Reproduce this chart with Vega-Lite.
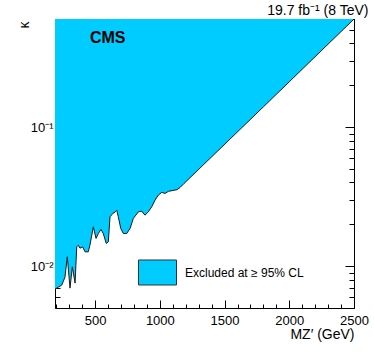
{
  "$schema": "https://vega.github.io/schema/vega-lite/v6.json",
  "width": 299,
  "height": 289,
  "autosize": {"type": "none"},
  "padding": {"left": 55, "top": 19, "right": 20, "bottom": 55},
  "background": "white",
  "title": {"text": "19.7 fb⁻¹ (8 TeV)", "anchor": "end", "fontSize": 14, "fontWeight": "normal", "font": "Liberation Sans", "color": "#000", "offset": -5},
  "data": {"values": [
    {"M": 190, "kappa": 0.00683},
    {"M": 215, "kappa": 0.00706},
    {"M": 242, "kappa": 0.00730},
    {"M": 267, "kappa": 0.00833},
    {"M": 285, "kappa": 0.01167},
    {"M": 306, "kappa": 0.00695},
    {"M": 324, "kappa": 0.00989},
    {"M": 345, "kappa": 0.00755},
    {"M": 358, "kappa": 0.01377},
    {"M": 370, "kappa": 0.01416},
    {"M": 383, "kappa": 0.01348},
    {"M": 404, "kappa": 0.01377},
    {"M": 422, "kappa": 0.01268},
    {"M": 447, "kappa": 0.01268},
    {"M": 460, "kappa": 0.01416},
    {"M": 486, "kappa": 0.01918},
    {"M": 507, "kappa": 0.01583},
    {"M": 525, "kappa": 0.01718},
    {"M": 545, "kappa": 0.01837},
    {"M": 563, "kappa": 0.01718},
    {"M": 586, "kappa": 0.01457},
    {"M": 602, "kappa": 0.01496},
    {"M": 615, "kappa": 0.02264},
    {"M": 636, "kappa": 0.02394},
    {"M": 654, "kappa": 0.02445},
    {"M": 667, "kappa": 0.02530},
    {"M": 679, "kappa": 0.02264},
    {"M": 698, "kappa": 0.01867},
    {"M": 718, "kappa": 0.01718},
    {"M": 744, "kappa": 0.01718},
    {"M": 770, "kappa": 0.01867},
    {"M": 795, "kappa": 0.02203},
    {"M": 834, "kappa": 0.02460},
    {"M": 860, "kappa": 0.02488},
    {"M": 885, "kappa": 0.02328},
    {"M": 911, "kappa": 0.02460},
    {"M": 937, "kappa": 0.02672},
    {"M": 963, "kappa": 0.02985},
    {"M": 988, "kappa": 0.03243},
    {"M": 1015, "kappa": 0.03396},
    {"M": 1040, "kappa": 0.03334},
    {"M": 1066, "kappa": 0.03452},
    {"M": 1094, "kappa": 0.03493},
    {"M": 1133, "kappa": 0.03551},
    {"M": 1156, "kappa": 0.03683},
    {"M": 1187, "kappa": 0.03936},
    {"M": 1800, "kappa": 0.140},
    {"M": 2500, "kappa": 0.600}
  ]},
  "layer": [
    {
      "mark": {"type": "area", "clip": true, "opacity": 1, "interpolate": "linear"},
      "encoding": {
        "x": {"field": "M", "type": "quantitative", "sort": null,
          "scale": {"domain": [190, 2500], "nice": false, "zero": false},
          "axis": {"orient": "bottom", "values": [200,300,400,500,600,700,800,900,1000,1100,1200,1300,1400,1500,1600,1700,1800,1900,2000,2100,2200,2300,2400,2500],
            "labelExpr": "datum.value % 500 === 0 ? format(datum.value, 'd') : ''",
            "tickSize": {"condition": {"test": "datum.value % 500 === 0", "value": -8}, "value": -4},
            "labelPadding": 14, "labelFontSize": 13, "labelFont": "Liberation Sans", "labelColor": "#000",
            "labelFlush": false, "labelOverlap": false, "labelBound": false,
            "tickColor": "#000", "domain": false, "grid": false,
            "title": "MZ′ (GeV)", "titleAnchor": "end", "titleAlign": "right", "titleX": 299, "titleY": 30, "titleBaseline": "alphabetic",
            "titleFontSize": 14, "titleFontWeight": "normal", "titleFont": "Liberation Sans", "titleColor": "#000"}},
        "y": {"field": "kappa", "type": "quantitative",
          "scale": {"type": "log", "domain": [0.005, 0.6], "nice": false},
          "axis": {"orient": "left", "values": [0.005,0.006,0.007,0.008,0.009,0.01,0.02,0.03,0.04,0.05,0.06,0.07,0.08,0.09,0.1,0.2,0.3,0.4,0.5,0.6],
            "labelExpr": "datum.value == 0.01 ? '10⁻²' : (datum.value == 0.1 ? '10⁻¹' : '')",
            "tickSize": {"condition": {"test": "datum.value == 0.01 || datum.value == 0.1", "value": -9}, "value": -5},
            "labelPadding": 11, "labelFontSize": 13, "labelFont": "Liberation Sans", "labelColor": "#000",
            "labelOverlap": false, "labelBound": false, "labelFlush": false,
            "tickColor": "#000", "domain": false, "grid": false,
            "title": "κ", "titleAngle": 270, "titleAlign": "right", "titleBaseline": "alphabetic", "titleX": -27, "titleY": 2,
            "titleFontSize": 14, "titleFontWeight": "normal", "titleFont": "Liberation Sans", "titleColor": "#000"}},
        "y2": {"datum": 0.6},
        "color": {"datum": "Excluded at ≥ 95% CL", "type": "nominal",
          "scale": {"range": ["#00CCFF"]},
          "legend": {"orient": "none", "legendX": 83, "legendY": 234, "title": null,
            "symbolType": "M-1,-0.658H1V0.658H-1Z", "symbolSize": 1444,
            "symbolStrokeColor": "#333", "symbolStrokeWidth": 1, "symbolOpacity": 1,
            "labelFontSize": 12, "labelFont": "Liberation Sans", "labelColor": "#000", "labelOffset": 8, "padding": 0}}
      }
    },
    {
      "mark": {"type": "line", "clip": true, "color": "#1a1a1a", "strokeWidth": 1},
      "encoding": {
        "x": {"field": "M", "type": "quantitative", "sort": null,
          "scale": {"domain": [190, 2500], "nice": false, "zero": false},
          "axis": {"orient": "top", "values": [200,300,400,500,600,700,800,900,1000,1100,1200,1300,1400,1500,1600,1700,1800,1900,2000,2100,2200,2300,2400,2500],
            "labels": false,
            "tickSize": {"condition": {"test": "datum.value % 500 === 0", "value": -8}, "value": -4},
            "tickColor": "#000", "domain": false, "grid": false, "title": null}},
        "y": {"field": "kappa", "type": "quantitative",
          "scale": {"type": "log", "domain": [0.005, 0.6], "nice": false},
          "axis": {"orient": "right", "values": [0.005,0.006,0.007,0.008,0.009,0.01,0.02,0.03,0.04,0.05,0.06,0.07,0.08,0.09,0.1,0.2,0.3,0.4,0.5,0.6],
            "labels": false,
            "tickSize": {"condition": {"test": "datum.value == 0.01 || datum.value == 0.1", "value": -9}, "value": -5},
            "tickColor": "#000", "domain": false, "grid": false, "title": null}}
      }
    },
    {
      "data": {"values": [{"label": "CMS"}]},
      "mark": {"type": "text", "font": "Liberation Sans", "fontWeight": "bold", "fontSize": 16, "align": "left", "baseline": "middle", "color": "#000"},
      "encoding": {
        "text": {"field": "label"},
        "x": {"datum": 460, "type": "quantitative", "axis": null},
        "y": {"datum": 0.436, "type": "quantitative", "axis": null}
      }
    }
  ],
  "resolve": {"axis": {"x": "independent", "y": "independent"}},
  "config": {
    "view": {"stroke": "#000", "strokeWidth": 1},
    "font": "Liberation Sans"
  }
}
